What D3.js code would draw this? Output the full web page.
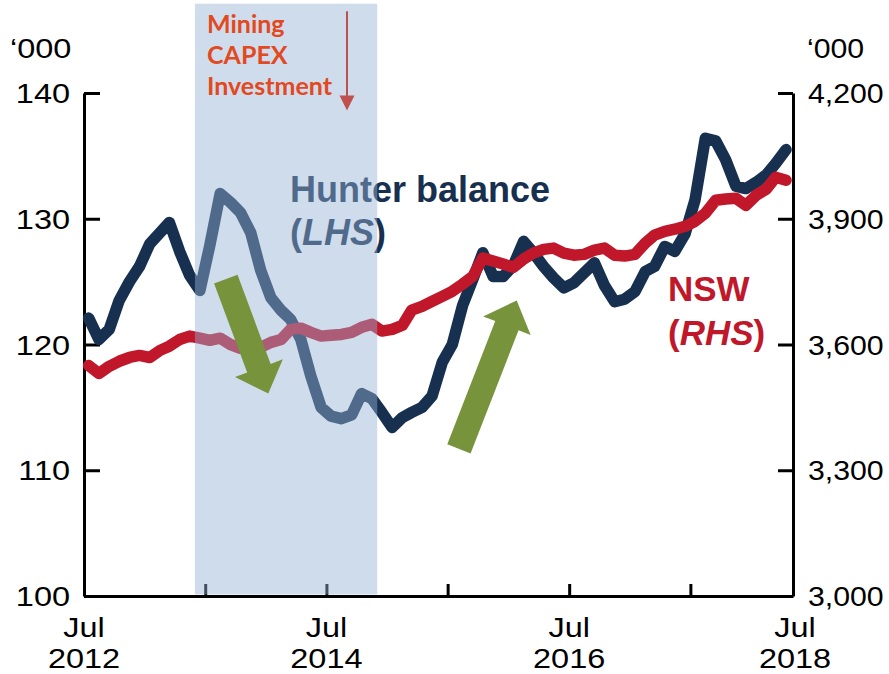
<!DOCTYPE html>
<html><head><meta charset="utf-8">
<script src="https://cdn.jsdelivr.net/npm/d3@7"></script>
<style>body{margin:0;background:#fff}svg{display:block}</style>
</head><body><svg id="c" width="889" height="674"></svg>
<script>
// ---- data (monthly, Jul 2012 – Apr 2018) ----
const firstMonth = "2012-07-01";
const lastMonthExclusive = "2018-05-01";
const hunter = [122.1,120.4,121.2,123.5,125.0,126.2,128.0,128.9,129.7,127.4,125.5,124.3,
  127.9,132.0,131.3,130.5,128.9,125.9,123.7,122.7,122.0,120.4,117.5,115.0,
  114.3,114.1,114.4,116.1,115.7,114.6,113.4,114.2,114.6,115.0,115.9,118.6,
  120.0,123.1,125.2,127.3,125.4,125.4,126.3,128.2,127.3,126.2,125.3,124.5,
  124.9,125.7,126.5,124.7,123.4,123.6,124.2,125.8,126.2,127.8,127.4,128.8,
  131.5,136.4,136.2,134.7,132.6,132.4,132.9,133.5,134.4,135.5];
const nsw = [3550,3531,3548,3560,3569,3574,3569,3586,3596,3612,3620,3615,
  3610,3615,3600,3591,3589,3593,3605,3612,3636,3639,3629,3620,
  3622,3624,3629,3641,3648,3632,3636,3646,3682,3691,3703,3715,
  3727,3744,3763,3806,3799,3792,3784,3804,3818,3827,3830,3818,
  3813,3815,3825,3830,3813,3811,3815,3842,3861,3870,3875,3882,
  3894,3913,3944,3947,3949,3932,3956,3971,3999,3992];
const leftTicks = [100,110,120,130,140];
const rightTicks = [3000,3300,3600,3900,4200];
const xDomain = ["2012-07-01","2018-05-06"];
const xTickDates = ["2013-07-01","2014-07-01","2015-07-01","2016-07-01","2017-07-01"];
const xLabelDates = ["2012-07-01","2014-07-01","2016-07-01","2018-07-01"];
const shadePeriod = ["2013-05-31","2014-12-01"];
const capexArrow = {date:"2014-09-01", from:146.5, to:138.6};
const downArrow = {from:["2013-09-01",125.2], to:["2014-01-07",116.1]};
const upArrow = {from:["2015-08-04",111.7], to:["2016-01-25",123.5]};

// ---- setup ----
const parse = d3.timeParse("%Y-%m-%d");
const months = d3.timeMonth.range(parse(firstMonth), parse(lastMonthExclusive)).map(d => d3.timeDay.offset(d, 14));
const svg = d3.select("#c");
const L = 84, R = 793, T = 93, B = 596;
const x = d3.scaleTime().domain(xDomain.map(parse)).range([L, R]);
const yL = d3.scaleLinear().domain([100,140]).range([B, T]);
const yR = d3.scaleLinear().domain([3000,4200]).range([B, T]);
const tickFont = "'Liberation Sans', Arial, sans-serif";
const SX = 1.16, SXR = 1.08;

const navy = "#17304f", red = "#c0172a", green = "#77933c";

// axes
const gL = svg.append("g").attr("transform", `translate(${L},0)`)
  .call(d3.axisLeft(yL).tickValues(leftTicks).tickFormat(d3.format("d")).tickSizeInner(-16).tickSizeOuter(0).tickPadding(14));
const gR = svg.append("g").attr("transform", `translate(${R},0)`)
  .call(d3.axisRight(yR).tickValues(rightTicks).tickFormat(d3.format(",")).tickSizeInner(-15).tickSizeOuter(0).tickPadding(15));
const gB = svg.append("g").attr("transform", `translate(0,${B})`)
  .call(d3.axisBottom(x).tickValues(xTickDates.map(parse)).tickFormat("").tickSizeInner(-12).tickSizeOuter(0));
[gL,gR,gB].forEach(g => {
  g.selectAll("path.domain").attr("stroke","#000").attr("stroke-width",3);
  g.selectAll(".tick line").attr("stroke","#000").attr("stroke-width",3);
  g.selectAll(".tick text").attr("font-family", tickFont).attr("font-size",28).attr("fill","#000");
});
gL.selectAll(".tick text").attr("x", -14/SX).attr("transform", `scale(${SX},1)`).attr("dy","0.34em");
gR.selectAll(".tick text").attr("x", 15/SXR).attr("transform", `scale(${SXR},1)`).attr("dy","0.34em");
const labG = svg.append("g").attr("font-family", tickFont).attr("font-size",28).attr("fill","#000").attr("text-anchor","middle");
xLabelDates.map(parse).forEach(d => {
  const px = Math.min(x(d), R + 2);
  const t = labG.append("text").attr("transform", `translate(${px},0) scale(${SX},1)`);
  t.append("tspan").attr("x",0).attr("y",B+41).text("Jul");
  t.append("tspan").attr("x",0).attr("y",B+72).text(d3.timeFormat("%Y")(d));
});
svg.append("text").attr("transform",`translate(10,58) scale(${SX},1)`).attr("font-family",tickFont).attr("font-size",28).text("\u2018000");
svg.append("text").attr("transform",`translate(807,58) scale(${SXR},1)`).attr("font-family",tickFont).attr("font-size",28).text("\u2018000");

// lines
const lineH = d3.line().x((d,i) => x(months[i])).y(d => yL(d));
const lineN = d3.line().x((d,i) => x(months[i])).y(d => yR(d));
svg.append("path").datum(hunter).attr("d", lineH).attr("fill","none").attr("stroke",navy)
  .attr("stroke-width",11.5).attr("stroke-linejoin","round").attr("stroke-linecap","round");
svg.append("path").datum(nsw).attr("d", lineN).attr("fill","none").attr("stroke",red)
  .attr("stroke-width",11.5).attr("stroke-linejoin","round").attr("stroke-linecap","round");

// series labels
const boldFont = "'Liberation Sans', Arial, sans-serif";
const hl = svg.append("g").attr("font-family",boldFont).attr("font-weight","bold").attr("font-size",36).attr("fill",navy);
hl.append("text").attr("x",290).attr("y",202).text("Hunter balance");
const hl2 = hl.append("text").attr("x",290).attr("y",245);
hl2.append("tspan").text("(");
hl2.append("tspan").attr("font-style","italic").text("LHS");
hl2.append("tspan").text(")");
const nl = svg.append("g").attr("font-family",boldFont).attr("font-weight","bold").attr("font-size",35).attr("fill",red);
nl.append("text").attr("x",668).attr("y",301).text("NSW");
const nl2 = nl.append("text").attr("x",668).attr("y",345);
nl2.append("tspan").text("(");
nl2.append("tspan").attr("font-style","italic").text("RHS");
nl2.append("tspan").text(")");

// shaded period (semi-transparent, over lines)
const s0 = x(parse(shadePeriod[0])), s1 = x(parse(shadePeriod[1]));
svg.append("rect").attr("x", s0).attr("width", s1 - s0).attr("y", yL(147.1)).attr("height", B - 1.5 - yL(147.1))
  .attr("fill","rgb(149,178,213)").attr("fill-opacity",0.45);

// green arrows
function arrowPts(x0,y0,x1,y1,sw,hw,hlen){
  const dx=x1-x0, dy=y1-y0, Ln=Math.hypot(dx,dy), ux=dx/Ln, uy=dy/Ln, nx=-uy, ny=ux;
  const bx=x1-ux*hlen, by=y1-uy*hlen;
  return [[x0+nx*sw/2,y0+ny*sw/2],[bx+nx*sw/2,by+ny*sw/2],[bx+nx*hw/2,by+ny*hw/2],[x1,y1],
          [bx-nx*hw/2,by-ny*hw/2],[bx-nx*sw/2,by-ny*sw/2],[x0-nx*sw/2,y0-ny*sw/2]];
}
[downArrow, upArrow].forEach(a => {
  const p = arrowPts(x(parse(a.from[0])), yL(a.from[1]), x(parse(a.to[0])), yL(a.to[1]), 25, 51, 27);
  svg.append("polygon").attr("points", p.map(q => q.join(",")).join(" ")).attr("fill", green);
});

// capex annotation
const ax = x(parse(capexArrow.date));
svg.append("line").attr("x1",ax).attr("x2",ax).attr("y1",yL(capexArrow.from)).attr("y2",yL(capexArrow.to)-13)
  .attr("stroke","#c0504d").attr("stroke-width",2);
const tipY = yL(capexArrow.to);
svg.append("polygon").attr("points", `${ax-7.5},${tipY-15} ${ax+7.5},${tipY-15} ${ax},${tipY}`).attr("fill","#c0504d");
const mt = svg.append("g").attr("font-family","Lato, 'Open Sans', sans-serif").attr("font-weight","bold").attr("font-size",25).attr("fill","#e2491f");
[["Mining",33],["CAPEX",64],["Investment",95]].forEach(([t,yy]) => mt.append("text").attr("x",207).attr("y",yy).text(t));
</script></body></html>
